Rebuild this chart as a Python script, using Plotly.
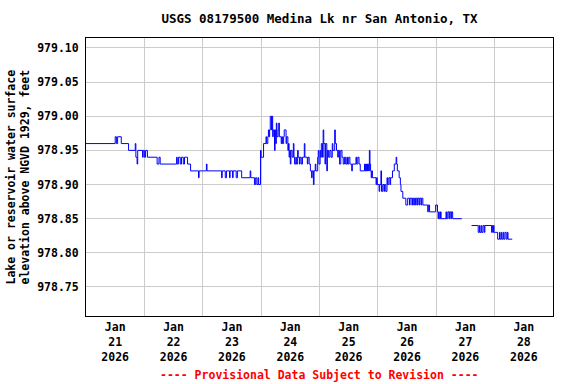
import plotly.graph_objects as go

# Gage height readings (clock time, lake elevation in feet) -- change points, step plot
jan21 = [("00:00", 978.96), ("12:00", 978.97), ("12:30", 978.96), ("13:00", 978.97), ("14:30", 978.96),
         ("17:30", 978.95), ("20:15", 978.96), ("20:30", 978.94), ("21:00", 978.93), ("21:15", 978.95),
         ("23:15", 978.94), ("23:30", 978.95)]
jan22 = [("00:00", 978.94), ("00:30", 978.95), ("01:15", 978.94), ("05:15", 978.93), ("06:00", 978.94),
         ("06:30", 978.93), ("13:15", 978.94), ("13:30", 978.93), ("14:00", 978.94), ("14:45", 978.93),
         ("15:15", 978.94), ("16:00", 978.93), ("16:30", 978.94), ("17:45", 978.93), ("19:00", 978.92),
         ("22:15", 978.91), ("22:30", 978.92)]
jan23 = [("01:30", 978.93), ("01:45", 978.92), ("07:45", 978.91), ("08:00", 978.92), ("09:15", 978.91),
         ("09:45", 978.92), ("11:00", 978.91), ("11:15", 978.92), ("12:15", 978.91), ("12:30", 978.92),
         ("13:45", 978.91), ("14:15", 978.92), ("16:00", 978.91), ("19:30", 978.92), ("19:45", 978.91),
         ("21:15", 978.90), ("21:45", 978.91), ("22:15", 978.90), ("22:45", 978.91), ("23:00", 978.90),
         ("23:45", 978.95)]
jan24 = [("00:00", 978.94), ("01:00", 978.96), ("02:00", 978.97), ("02:15", 978.96), ("02:45", 978.97),
         ("03:00", 978.98), ("03:15", 978.97), ("03:30", 978.98), ("03:45", 979.00), ("04:15", 978.98),
         ("04:30", 979.00), ("04:45", 978.97), ("05:00", 978.98), ("05:30", 978.95), ("05:45", 978.98),
         ("06:00", 978.96), ("06:15", 978.99), ("06:30", 978.97), ("07:00", 978.98), ("07:15", 978.99),
         ("07:30", 978.97), ("08:15", 978.96), ("08:30", 978.97), ("08:45", 978.96), ("09:15", 978.97),
         ("09:30", 978.98), ("10:15", 978.96), ("10:30", 978.97), ("11:00", 978.95), ("11:15", 978.96),
         ("11:30", 978.94), ("11:45", 978.95), ("12:00", 978.93), ("12:15", 978.95), ("12:45", 978.94),
         ("13:15", 978.96), ("13:30", 978.94), ("13:45", 978.93), ("14:15", 978.94), ("14:30", 978.93),
         ("15:00", 978.95), ("15:15", 978.94), ("15:45", 978.93), ("16:00", 978.94), ("16:30", 978.93),
         ("17:00", 978.94), ("17:45", 978.96), ("18:00", 978.94), ("19:00", 978.93), ("19:15", 978.94),
         ("19:45", 978.93), ("20:15", 978.92), ("20:45", 978.91), ("21:00", 978.92), ("21:30", 978.90),
         ("21:45", 978.92), ("22:15", 978.93), ("22:30", 978.92), ("23:15", 978.94), ("23:30", 978.95),
         ("23:45", 978.93)]
jan25 = [("00:15", 978.95), ("00:30", 978.94), ("00:45", 978.96), ("01:15", 978.94), ("01:30", 978.98),
         ("01:45", 978.96), ("02:15", 978.93), ("02:30", 978.96), ("03:00", 978.92), ("03:15", 978.95),
         ("03:45", 978.94), ("04:15", 978.95), ("04:45", 978.94), ("05:15", 978.96), ("05:30", 978.95),
         ("06:15", 978.98), ("06:30", 978.96), ("07:00", 978.95), ("07:30", 978.94), ("07:45", 978.95),
         ("08:15", 978.93), ("08:45", 978.95), ("09:15", 978.94), ("09:45", 978.93), ("10:15", 978.94),
         ("10:45", 978.93), ("11:15", 978.94), ("11:30", 978.93), ("12:00", 978.94), ("12:30", 978.93),
         ("13:15", 978.92), ("13:30", 978.93), ("15:00", 978.94), ("15:15", 978.93), ("15:45", 978.94),
         ("16:15", 978.93), ("16:45", 978.92), ("18:30", 978.93), ("18:45", 978.92), ("19:00", 978.93),
         ("19:15", 978.92), ("19:30", 978.93), ("19:45", 978.92), ("20:00", 978.93), ("20:15", 978.92),
         ("20:30", 978.95), ("20:45", 978.93), ("21:00", 978.92), ("21:15", 978.91), ("21:30", 978.92),
         ("21:45", 978.91), ("23:15", 978.90), ("23:30", 978.91), ("23:45", 978.90)]
jan26 = [("00:30", 978.89), ("00:45", 978.90), ("01:15", 978.92), ("01:30", 978.89), ("02:00", 978.90),
         ("02:30", 978.89), ("02:45", 978.90), ("03:15", 978.89), ("03:45", 978.91), ("04:00", 978.90),
         ("04:30", 978.91), ("05:00", 978.90), ("05:15", 978.91), ("06:00", 978.92), ("06:45", 978.93),
         ("07:30", 978.94), ("07:45", 978.93), ("08:00", 978.92), ("08:45", 978.91), ("09:15", 978.90),
         ("09:30", 978.89), ("10:15", 978.88), ("11:30", 978.87), ("12:15", 978.88), ("13:00", 978.87),
         ("13:15", 978.88), ("14:00", 978.87), ("14:15", 978.88), ("14:45", 978.87), ("15:00", 978.88),
         ("15:30", 978.87), ("15:45", 978.88), ("16:15", 978.87), ("16:30", 978.88), ("17:00", 978.87),
         ("17:15", 978.88), ("17:45", 978.87), ("18:00", 978.88), ("18:30", 978.87), ("20:30", 978.86),
         ("20:45", 978.87), ("21:15", 978.86), ("23:45", 978.87)]
jan27 = [("00:30", 978.86), ("00:45", 978.85), ("01:00", 978.86), ("01:15", 978.85), ("01:45", 978.86),
         ("02:00", 978.85), ("04:00", 978.86), ("04:15", 978.85), ("04:45", 978.86), ("05:15", 978.85),
         ("05:30", 978.86), ("06:00", 978.85), ("06:15", 978.86), ("06:45", 978.85), ("10:30", 978.85),
         ("10:45", None), ("14:30", 978.84), ("17:15", 978.83), ("17:45", 978.84), ("18:00", 978.83),
         ("18:30", 978.84), ("18:45", 978.83), ("19:15", 978.84), ("19:45", 978.83), ("20:00", 978.84),
         ("22:45", 978.83), ("23:00", 978.84), ("23:15", 978.83), ("23:30", 978.84), ("23:45", 978.83)]
jan28 = [("00:30", 978.83), ("01:15", 978.82), ("02:00", 978.83), ("02:15", 978.82), ("02:45", 978.83),
         ("03:00", 978.82), ("03:30", 978.83), ("03:45", 978.82), ("04:15", 978.83), ("04:45", 978.82),
         ("05:15", 978.83), ("05:30", 978.82), ("07:15", 978.82)]

days = {"21": jan21, "22": jan22, "23": jan23, "24": jan24,
        "25": jan25, "26": jan26, "27": jan27, "28": jan28}

tick_days = ["21", "22", "23", "24", "25", "26", "27", "28"]
y_ticks = [978.75, 978.80, 978.85, 978.90, 978.95, 979.00, 979.05, 979.10]

times, levels = [], []
for d, rows in days.items():
    for t, v in rows:
        times.append(f"2026-01-{d} {t}")
        levels.append(v)

FONT = "DejaVu Sans Mono"

fig = go.Figure()
fig.add_trace(go.Scatter(x=times, y=levels, mode="lines",
                         line=dict(color="#0000ff", width=1, shape="hv"),
                         connectgaps=False, showlegend=False))

fig.update_layout(
    width=576, height=384,
    margin=dict(l=86, r=23, t=38, b=68),
    paper_bgcolor="white", plot_bgcolor="white",
    font=dict(family=FONT, size=11.5, color="black", weight="bold"),
    title=dict(text="USGS 08179500 Medina Lk nr San Antonio, TX",
               x=0.5, xref="paper", xanchor="center",
               y=1 - 19 / 384, yref="container", yanchor="middle",
               font=dict(family=FONT, size=12.5, color="black", weight="bold")),
    xaxis=dict(
        range=["2026-01-21 00:00", "2026-01-29 00:00"],
        tickmode="array",
        tickvals=[f"2026-01-{d} 12:00" for d in tick_days],
        ticktext=[f"Jan<br>{d}<br>2026" for d in tick_days],
        showgrid=False, ticks="", zeroline=False,
        showline=True, linecolor="black", linewidth=1, mirror=True,
        minor=dict(tickmode="array",
                   tickvals=[f"2026-01-{d} 00:00" for d in ["22", "23", "24", "25", "26", "27", "28"]],
                   showgrid=True, gridcolor="#cccccc", gridwidth=1, ticks=""),
        tickfont=dict(family=FONT, size=11.5, color="black", weight="bold"),
    ),
    yaxis=dict(
        range=[978.7075, 979.1146],
        tickmode="array", tickvals=y_ticks,
        ticktext=[f"{v:.2f}" for v in y_ticks],
        showgrid=True, gridcolor="#cccccc", gridwidth=1, ticks="",
        zeroline=False, showline=True, linecolor="black", linewidth=1, mirror=True,
        ticklabelstandoff=4,
        tickfont=dict(family=FONT, size=11.5, color="black", weight="bold"),
    ),
    annotations=[
        dict(text="Lake or reservoir water surface<br>elevation above NGVD 1929, feet",
             xref="paper", yref="paper", x=(17.5 - 86) / 467, y=0.5,
             xanchor="center", yanchor="middle", textangle=-90, showarrow=False,
             font=dict(family=FONT, size=11.5, color="black", weight="bold")),
        dict(text="---- Provisional Data Subject to Revision ----",
             xref="paper", yref="paper", x=0.5, y=(316 - 375) / 278,
             xanchor="center", yanchor="middle", showarrow=False,
             font=dict(family=FONT, size=11.5, color="#ff0000", weight="bold")),
    ],
)

fig.write_html("out.html")
